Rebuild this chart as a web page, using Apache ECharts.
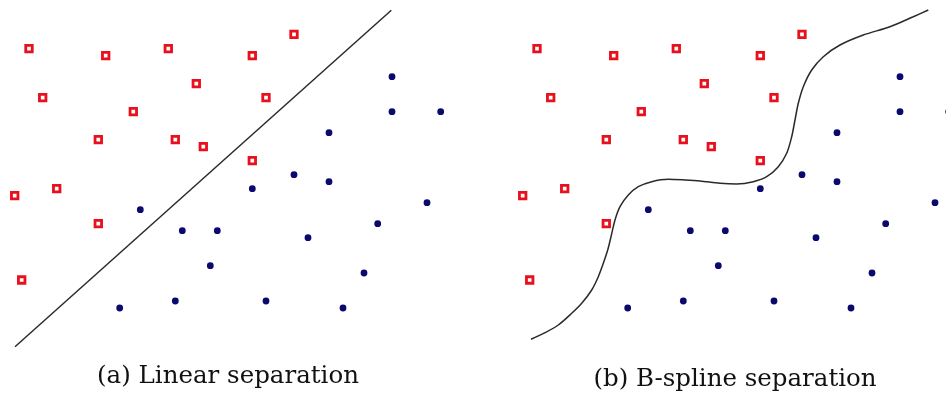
<!DOCTYPE html>
<html><head><meta charset="utf-8">
<script src="https://cdn.jsdelivr.net/npm/echarts@6/dist/echarts.min.js"></script>
<style>html,body{margin:0;padding:0;background:#fff}#c{width:946px;height:399px}</style>
</head><body><div id="c"></div>
<script>
// Data in panel coordinate units (x right, y down), panel height 399
const redSquares = [
  [29,48.7],[105.7,55.7],[168.3,48.7],[252.3,55.7],[294,34.3],
  [42.7,97.7],[196.3,83.7],[266,97.7],[133.3,111.7],
  [98.3,139.7],[175.3,139.7],[203.3,146.7],[252.3,160.7],
  [56.7,188.7],[14.7,195.7],[98.3,223.7],[21.7,280]
];
const blueDots = [
  [392,76.7],[392,111.7],[440.7,111.7],[329,132.7],[294,174.7],[329,181.7],
  [252.3,188.7],[427,202.7],[140.3,209.7],[377.7,223.7],[182.3,230.7],[217.3,230.7],
  [308,237.7],[210.3,265.7],[364,273],[119.7,308],[175.3,301],[266,301],[343,308]
];
const linearBoundary = [[15,346.7],[391.3,10.3]];
const splineBoundary = [
  [23,339.3],[37,332.7],[50.3,325],[63.7,313.3],[73.7,303.3],[83.7,290],[90.3,276.7],
  [95.3,263.3],[99.7,250],[103,236.7],[107,220],[112,206.7],[120.3,195],[130.3,186.7],
  [143.7,181.7],[160.3,179.3],[177,180],[192,181],[212,183.3],[228.7,184],[245.3,181.7],
  [258.7,176.7],[270.3,166.7],[278.7,153.3],[283.7,136.7],[287,120],[290.3,103.3],
  [295.3,86.7],[303.7,70],[315.3,56.7],[332,45],[355.3,35],[382,26.7],[405.3,16.7],[420.3,10]
];
const captions = ['(a) Linear separation', '(b) B-spline separation'];

const H = 399;
const offsets = [0, 508];
const widths = [473, 438];
const grids = offsets.map((o,i) => ({left:o, top:0, width:widths[i], height:H, containLabel:false}));
const xAxes = offsets.map((o,i) => ({type:'value', gridIndex:i, min:0, max:widths[i], show:false}));
const yAxes = offsets.map((o,i) => ({type:'value', gridIndex:i, min:0, max:H, inverse:true, show:false}));
const series = [];
[linearBoundary, splineBoundary].forEach((b,i) => {
  series.push({type:'line', xAxisIndex:i, yAxisIndex:i, data:b, smooth: i===1 ? 0.3 : false,
    showSymbol:false, lineStyle:{color:'#2a2a2a', width:1.5}, z:1, silent:true, clip:false});
  series.push({type:'scatter', xAxisIndex:i, yAxisIndex:i, data:redSquares, symbol:'rect', symbolSize:6.5,
    itemStyle:{color:'#ffffff', borderColor:'#e8101c', borderWidth:2.8, opacity:1}, z:3, clip:false});
  series.push({type:'scatter', xAxisIndex:i, yAxisIndex:i, data:blueDots, symbol:'circle', symbolSize:6.8,
    itemStyle:{color:'#0a0a6e', opacity:1}, z:3, clip:false});
});
const chart = echarts.init(document.getElementById('c'), null, {renderer:'canvas'});
chart.setOption({
  animation:false,
  backgroundColor:'#ffffff',
  grid:grids, xAxis:xAxes, yAxis:yAxes, series,
  graphic: captions.map((t,i) => ({type:'text', x: i===0 ? 228 : 735, y: i===0 ? 377 : 380,
    style:{text:t, font:'24.5px "DejaVu Serif", "Liberation Serif", serif', fill:'#111', align:'center', verticalAlign:'middle'}}))
});
</script></body></html>
